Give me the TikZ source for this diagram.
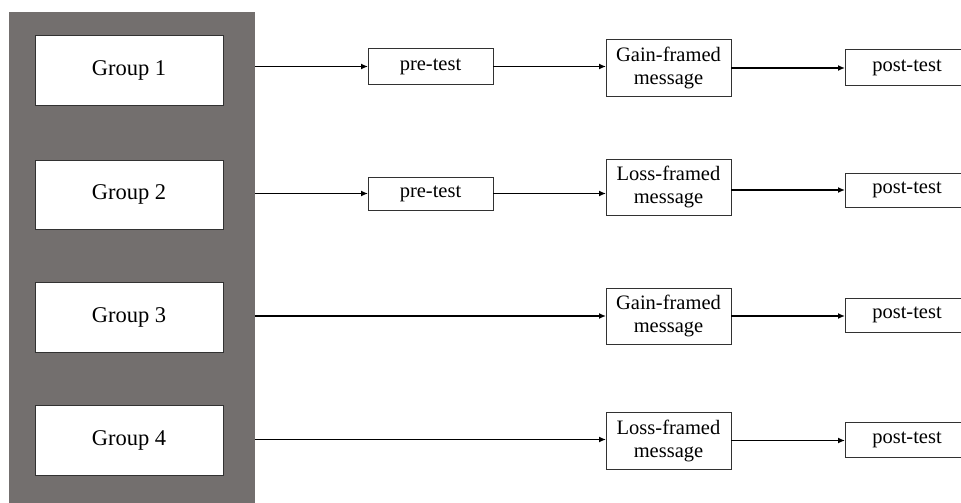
\documentclass[tikz,border=0pt]{standalone}
\usepackage{fontspec}
\setmainfont{Liberation Serif}
\usetikzlibrary{arrows.meta}
\definecolor{panelgrey}{RGB}{115,111,110}
\definecolor{boxline}{RGB}{50,50,50}
\tikzset{
  grp/.style={draw=boxline, line width=1pt, fill=white, minimum width=188pt, inner sep=0pt, outer sep=0pt, font=\fontsize{22.5}{25}\selectfont},
  stepbox/.style={draw=boxline, line width=1pt, fill=white, minimum width=125pt, inner sep=0pt, outer sep=0pt, align=center, font=\fontsize{20.5}{23}\selectfont},
  conn/.style={line width=1.7pt, -{Latex[length=7pt,width=6pt]}}
}
\begin{document}
\begin{tikzpicture}[x=1pt,y=-1pt]
\useasboundingbox (0,0) rectangle (961,503);
\clip (0,0) rectangle (961,503);
\node[fill=panelgrey, inner sep=0pt, outer sep=0pt, minimum width=246pt, minimum height=500pt, anchor=north west] (panel) at (9,12) {};
\node[grp, minimum height=69pt] (g1) at (129,70.5) {Group 1};
\node[grp, minimum height=69pt] (g2) at (129,194.5) {Group 2};
\node[grp, minimum height=70pt] (g3) at (129,317) {Group 3};
\node[grp, minimum height=70pt] (g4) at (129,440) {Group 4};
\node[stepbox, minimum height=35pt] (pre1) at (430.5,66.5) {pre-test};
\node[stepbox, minimum height=33pt] (pre2) at (430.5,193.5) {pre-test};
\node[stepbox, minimum height=56pt] (msg1) at (668.5,68) {Gain-framed\\message};
\node[stepbox, minimum height=56pt] (msg2) at (668.5,187) {Loss-framed\\message};
\node[stepbox, minimum height=56pt] (msg3) at (668.5,316) {Gain-framed\\message};
\node[stepbox, minimum height=57pt] (msg4) at (668.5,440.5) {Loss-framed\\message};
\node[stepbox, minimum width=124pt, minimum height=35pt] (post1) at (907,67.5) {post-test};
\node[stepbox, minimum width=124pt, minimum height=34pt] (post2) at (907,190) {post-test};
\node[stepbox, minimum width=124pt, minimum height=34pt] (post3) at (907,315) {post-test};
\node[stepbox, minimum width=124pt, minimum height=35pt] (post4) at (907,439.5) {post-test};
% row 1
\draw[conn] (pre1 -| panel.east) -- (pre1.west);
\draw[conn] (pre1.east) -- (pre1.east -| msg1.west);
\draw[conn] (msg1.east) -- (msg1.east -| post1.west);
% row 2
\draw[conn] (pre2 -| panel.east) -- (pre2.west);
\draw[conn] (pre2.east) -- (pre2.east -| msg2.west);
\draw[conn] (post2 -| msg2.east) -- (post2.west);
% row 3
\draw[conn] (msg3 -| panel.east) -- (msg3.west);
\draw[conn] (msg3.east) -- (msg3.east -| post3.west);
% row 4
\draw[conn] (post4 -| panel.east) -- (post4 -| msg4.west);
\draw[conn] (msg4.east) -- (msg4.east -| post4.west);
\end{tikzpicture}
\end{document}
